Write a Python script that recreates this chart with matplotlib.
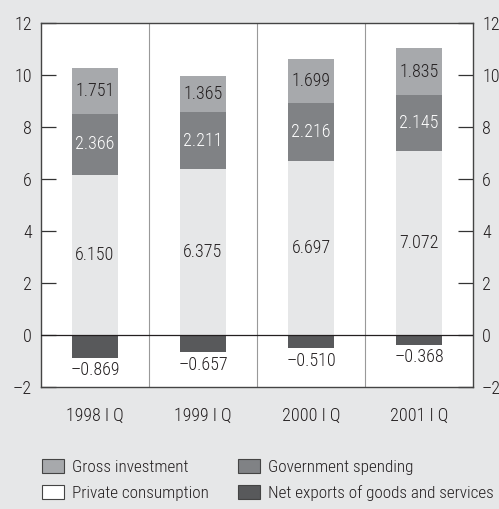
import numpy as np
import matplotlib.pyplot as plt
from matplotlib.patches import Patch

plt.rcParams['font.family'] = ['Roboto Condensed', 'DejaVu Sans']
plt.rcParams['font.weight'] = 300

quarters = ['1998 I Q', '1999 I Q', '2000 I Q', '2001 I Q']
private = [6.150, 6.375, 6.697, 7.072]
government = [2.366, 2.211, 2.216, 2.145]
investment = [1.751, 1.365, 1.699, 1.835]
net_exports = [-0.869, -0.657, -0.510, -0.368]
yticks = [-2, 0, 2, 4, 6, 8, 10, 12]

c_inv = '#a7a9ac'
c_gov = '#808285'
c_priv = '#e6e7e8'
c_net = '#58595b'
bg = '#e6e7e8'
ink = '#231f20'

fig = plt.figure(figsize=(4.99, 5.09), dpi=100, facecolor=bg)
ax = fig.add_axes([41 / 499, 1 - 387 / 509, 432 / 499, 364 / 509])
ax.set_facecolor('white')

x = np.arange(len(quarters))
w = 0.43
priv = np.array(private)
gov = np.array(government)
inv = np.array(investment)

ax.bar(x, priv, w, color=c_priv, zorder=2)
ax.bar(x, gov, w, bottom=priv, color=c_gov, zorder=2)
ax.bar(x, inv, w, bottom=priv + gov, color=c_inv, zorder=2)
ax.bar(x, net_exports, w, color=c_net, zorder=2)

fs = 13
fmt = lambda v: f'{v:.3f}'.replace('-', '\u2013')
for i in range(len(x)):
    ax.text(x[i], priv[i] / 2, fmt(priv[i]), ha='center', va='center',
            fontsize=fs, color=ink, zorder=3)
    ax.text(x[i], priv[i] + gov[i] / 2, fmt(gov[i]), ha='center', va='center',
            fontsize=fs, color='white', zorder=3)
    ax.text(x[i], priv[i] + gov[i] + inv[i] / 2, fmt(inv[i]), ha='center',
            va='center', fontsize=fs, color=ink, zorder=3)
    ax.text(x[i], net_exports[i] - 0.15, fmt(net_exports[i]), ha='center',
            va='top', fontsize=fs, color=ink, zorder=3)

ax.set_xlim(-0.5, 3.5)
ax.set_ylim(-2, 12)
ax.axhline(0, color=ink, lw=0.9, zorder=3)
for b in [0.5, 1.5, 2.5]:
    ax.axvline(b, color='#999999', lw=0.8, zorder=1)

ax.set_xticks(x)
ax.set_xticklabels(quarters)
ax.tick_params(axis='x', length=0, pad=14, labelsize=fs, labelcolor=ink)
ax.set_yticks(yticks)
ax.set_yticklabels([str(t).replace('-', '\u2013') for t in yticks])
ax.tick_params(axis='y', direction='in', length=11, width=0.9, color='#333333',
               pad=6.5, labelsize=fs, labelcolor=ink,
               left=True, right=True, labelleft=True, labelright=True)
for s in ax.spines.values():
    s.set_color('#444444')
    s.set_linewidth(1.0)

handles = [Patch(facecolor=c_inv, edgecolor='#444444', lw=0.8),
           Patch(facecolor='white', edgecolor='#444444', lw=0.8),
           Patch(facecolor=c_gov, edgecolor='#444444', lw=0.8),
           Patch(facecolor=c_net, edgecolor='#444444', lw=0.8)]
labels = ['Gross investment', 'Private consumption', 'Government spending',
          'Net exports of goods and services']
fig.legend(handles, labels, ncol=2, loc='upper left',
           bbox_to_anchor=(42 / 499, 1 - 459 / 509), frameon=False,
           fontsize=fs - 0.7, handlelength=1.3, handleheight=0.9,
           handletextpad=0.45, columnspacing=1.7, labelspacing=0.6,
           borderpad=0, borderaxespad=0, labelcolor=ink)

fig.savefig('out.png', dpi=100, facecolor=bg)
